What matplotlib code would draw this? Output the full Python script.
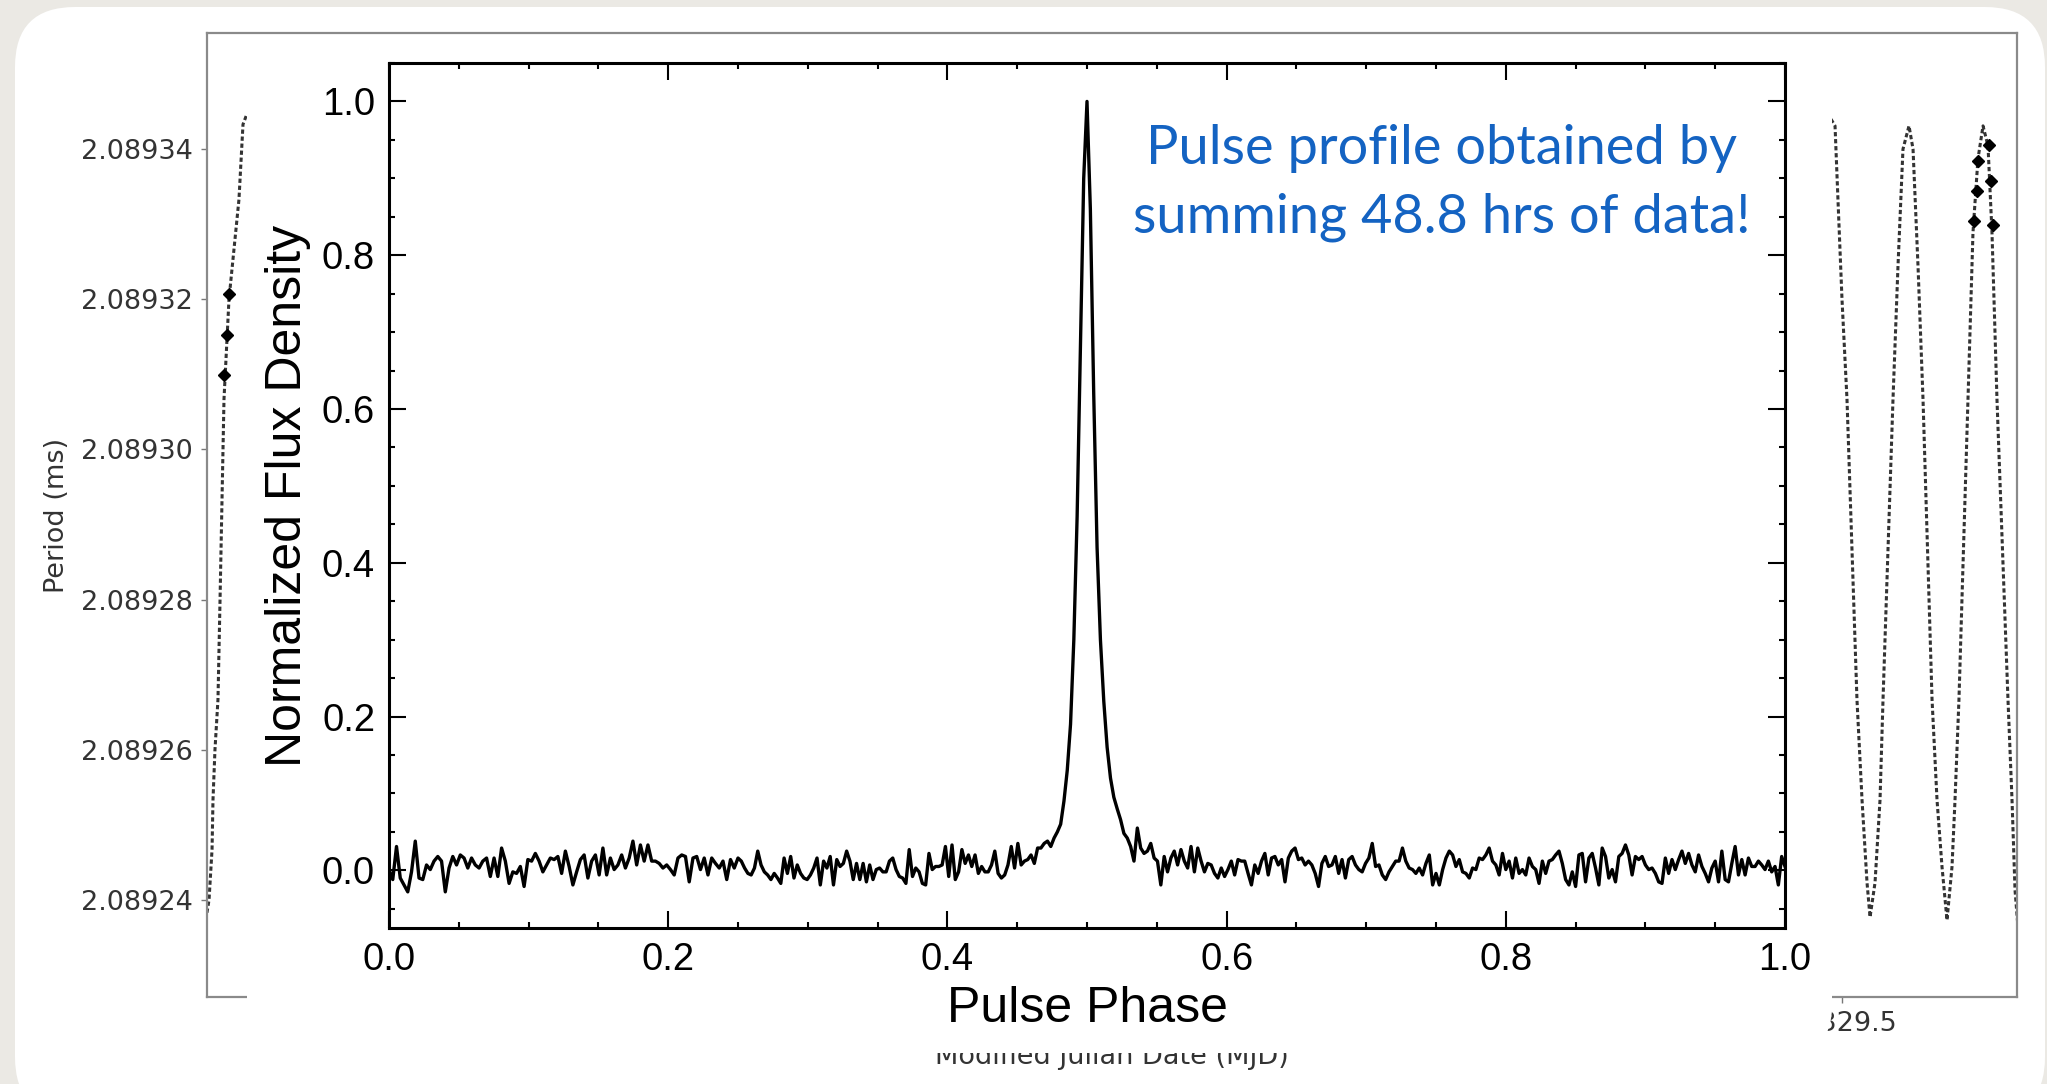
import numpy as np
import matplotlib.pyplot as plt
from matplotlib.patches import FancyBboxPatch

# ---- background chart: pulse period vs. MJD (mostly covered) ----
mjd_left = [56327.5988, 56327.6012, 56327.6047, 56327.6058, 56327.6081, 56327.6116,
            56327.6140, 56327.6186, 56327.6244, 56327.6360, 56327.6407, 56327.6453]
period_left = [2.0892383, 2.0892400, 2.0892467, 2.0892533, 2.0892600, 2.0892667,
               2.0892800, 2.0893067, 2.0893200, 2.0893333, 2.0893433, 2.0893447]
mjd_right = [56329.4872, 56329.4919, 56329.4953, 56329.5000, 56329.5058, 56329.5174,
             56329.5233, 56329.5291, 56329.5326, 56329.5384, 56329.5442, 56329.5477,
             56329.5593, 56329.5651, 56329.5709, 56329.5779, 56329.5826, 56329.5884,
             56329.5942, 56329.6047, 56329.6105, 56329.6163, 56329.6221, 56329.6279,
             56329.6314, 56329.6360, 56329.6465, 56329.6523, 56329.6581, 56329.6640,
             56329.6698, 56329.6744, 56329.6779, 56329.6802, 56329.6930, 56329.6977,
             56329.7012, 56329.7058]
period_right = [2.0893440, 2.0893431, 2.0893333, 2.0893200, 2.0893067, 2.0892667,
                2.0892533, 2.0892423, 2.0892377, 2.0892423, 2.0892533, 2.0892667,
                2.0893067, 2.0893244, 2.0893400, 2.0893431, 2.0893400, 2.0893244,
                2.0893067, 2.0892667, 2.0892533, 2.0892444, 2.0892373, 2.0892444,
                2.0892533, 2.0892667, 2.0893067, 2.0893289, 2.0893387, 2.0893431,
                2.0893404, 2.0893289, 2.0893156, 2.0893067, 2.0892667, 2.0892533,
                2.0892413, 2.0892347]
obs_mjd = [56327.6244, 56327.6221, 56327.6186, 56329.6535, 56329.6570, 56329.6581,
           56329.6709, 56329.6733, 56329.6756]
obs_period = [2.0893207, 2.0893153, 2.0893099, 2.0893304, 2.0893344, 2.0893384,
              2.0893405, 2.0893357, 2.0893299]
period_ticks = [2.08924, 2.08926, 2.08928, 2.08930, 2.08932, 2.08934]
mjd_ticks = [56328.0, 56328.5, 56329.0, 56329.5]

# ---- pulse profile, read in four quarters of phase ----
flux_q1 = [.001, -.012, .031, -.010, -.019, -.028, -.002, .038, -.010, -.012,
           .007, .001, .012, .018, .012, -.028, .003, .018, .007, .020,
           .016, .003, .016, .007, .003, .012, .016, -.008, .016, -.008,
           .029, .012, -.017, -.002, -.004, .005, -.021, .014, .012, .022,
           .012, -.002, .007, .016, .014, .018, -.004, .025, .005, -.019,
           -.002, .014, .020, -.010, .012, .020, -.006, .029, -.006, .016,
           .001, .007, .020, .003, .016, .038, .007, .033, .012, .033,
           .012, .012, .009, .003, .007, .001, -.006, .016, .020, .018,
           -.015, .016, .018, .001, .016, -.006, .016, .009, .003, .012,
           -.012, .014, .003, .016]
flux_q2 = [.012, .003, -.004, -.006, .003, .025, .007, -.002, -.006, -.012,
           -.004, -.010, -.017, .016, -.004, .018, -.010, .007, -.004, -.010,
           -.012, -.006, .003, .016, -.019, .012, .003, .018, -.019, .014,
           .005, .009, .025, .012, -.012, .009, -.012, .009, -.015, .007,
           -.012, .001, .003, -.002, -.002, .012, .016, .001, -.008, -.010,
           -.017, .027, -.008, .003, -.002, -.017, -.019, .022, .001, .005,
           .005, .007, .031, -.008, .033, -.012, -.002, .027, .009, .020,
           .005, .020, -.004, .005, -.002, -.002, .007, .025, -.004, -.010,
           -.006, .007, .031, .003, .035, .007, .012, .014, .020, .009,
           .029, .029, .035, .038, .031, .042,
           .05, .06, .09, .13, .19, .30, .46, .68, .90, 1.0]
flux_q3 = [.86, .62, .42, .30, .22, .16, .12, .095, .08,
           .066, .048, .042, .031, .012, .055, .029, .022, .025, .035,
           .016, .012, -.019, .018, -.002, .016, .025, .007, .027, .012,
           .003, .031, -.002, .029, .012, -.002, .009, .007, -.004, -.010,
           .003, -.008, .001, .012, -.006, .014, .012, .012, -.004, -.019,
           .007, -.004, .012, .022, -.006, .016, .018, .007, .014, -.015,
           .016, .025, .029, .014, .016, .007, .012, .007, -.004, -.021,
           .009, .018, .005, .007, .018, -.004, .014, -.010, .014, .018,
           .007, .001, -.002, .009, .016, .035, .005, .007, -.006, -.012,
           -.002, .005, .012, .012, .029, .012, .003, .001, -.004, .003,
           -.006, .009, .020, -.019, -.004]
flux_q4 = [-.019, .001, .016, .025, .020, .005, .014, -.002, -.004, -.010,
           .003, .001, .016, .014, .020, .029, .012, .007, -.006, .022,
           .001, .012, -.010, .016, -.004, .001, -.006, .016, .005, .001,
           -.017, .012, -.004, .012, .014, .020, .025, .009, -.012, -.019,
           -.002, -.021, .020, .022, -.015, .016, .022, .003, -.019, .029,
           .018, -.010, .001, -.015, .018, .022, .033, .020, -.006, .018,
           .014, .018, .007, .001, .003, -.004, -.015, -.017, .016, -.004,
           .014, .001, .014, .025, .009, .022, .007, -.002, .020, .005,
           -.004, -.015, .003, .012, -.015, .025, -.012, -.015, .009, .031,
           -.006, .014, -.006, .016, .005, .005, .012, .007, .001, .012,
           -.002, .005, -.019, .018, .005]

phase = np.concatenate([np.linspace(0.0, 0.25, len(flux_q1)),
                        np.linspace(0.25, 0.5, len(flux_q2) + 1)[1:],
                        np.linspace(0.5, 0.75, len(flux_q3) + 1)[1:],
                        np.linspace(0.75, 1.0, len(flux_q4) + 1)[1:]])
flux = np.concatenate([flux_q1, flux_q2, flux_q3, flux_q4])

note = "Pulse profile obtained by\nsumming 48.8 hrs of data!"

W, H = 2047, 1084


def rect(l, t, r, b):
    # pixel box -> figure fraction
    return [l / W, 1 - b / H, (r - l) / W, (b - t) / H]


fig = plt.figure(figsize=(W / 100, H / 100), dpi=100, facecolor='#ebe9e4')

# slide card
ax_card = fig.add_axes([0, 0, 1, 1], zorder=0)
ax_card.set_xlim(0, W)
ax_card.set_ylim(H, 0)
ax_card.axis('off')
ax_card.add_patch(FancyBboxPatch((15, 7), 2030, 1110, boxstyle='round,pad=0,rounding_size=60',
                                 facecolor='white', edgecolor='none'))

# period vs MJD
ax_bg = fig.add_axes(rect(207, 33, 2017, 997), zorder=1)
ax_bg.plot(mjd_left, period_left, color='#333333', lw=2.2, ls=(0, (1.4, 0.9)))
ax_bg.plot(mjd_right, period_right, color='#333333', lw=2.2, ls=(0, (1.4, 0.9)))
ax_bg.plot(obs_mjd, obs_period, 'D', color='black', ms=6, ls='none')
ax_bg.set_xlim(56327.59884, 56329.70349)
ax_bg.set_ylim(2.08922707, 2.08935547)
ax_bg.set_yticks(period_ticks, ['%.5f' % v for v in period_ticks])
ax_bg.set_xticks(mjd_ticks, ['%.1f' % v for v in mjd_ticks])
ax_bg.tick_params(length=4, width=1, color='#777777', labelsize=19.5,
                  labelcolor='#333333', pad=6)
for s in ax_bg.spines.values():
    s.set_color('#8a8a8a')
    s.set_linewidth(1.6)
ax_bg.set_ylabel('Period (ms)', fontsize=19.5, color='#333333', labelpad=8)
ax_bg.set_xlabel('Modified Julian Date (MJD)', fontsize=19.5, color='#333333', labelpad=5)

# white inset panel
ax_panel = fig.add_axes([0, 0, 1, 1], zorder=2)
ax_panel.set_xlim(0, W)
ax_panel.set_ylim(H, 0)
ax_panel.axis('off')
ax_panel.add_patch(FancyBboxPatch((247, 48), 1585, 1005, boxstyle='round,pad=0,rounding_size=46',
                                  facecolor='white', edgecolor='none'))

# pulse profile
ax = fig.add_axes(rect(389, 63, 1785, 928), zorder=3)
ax.plot(phase, flux, color='black', lw=2.4)
ax.set_xlim(0, 1)
ax.set_ylim(-0.075, 1.05)
ax.set_xticks([0.0, 0.2, 0.4, 0.6, 0.8, 1.0])
ax.set_xticks(np.arange(0, 1.0001, 0.05), minor=True)
ax.set_yticks([0.0, 0.2, 0.4, 0.6, 0.8, 1.0])
ax.set_yticks(np.arange(-0.05, 1.0501, 0.05), minor=True)
ax.tick_params(which='both', direction='in', top=True, right=True, width=1.5)
ax.tick_params(which='major', length=12, labelsize=27.5, pad=10)
ax.tick_params(which='minor', length=4.5)
for lab in ax.get_xticklabels() + ax.get_yticklabels():
    lab.set_family('Liberation Sans')
for s in ax.spines.values():
    s.set_linewidth(2.2)
ax.set_xlabel('Pulse Phase', fontsize=36, family='Liberation Sans', labelpad=6)
ax.set_ylabel('Normalized Flux Density', fontsize=36, family='Liberation Sans', labelpad=8)

# blue note on top of the profile (baseline of the second line)
ax.text(1442 / W, 1 - 232 / H, note, transform=fig.transFigure, color='#1463c2',
        fontsize=39, family='Lato', ha='center', va='baseline',
        multialignment='center', linespacing=1.47)

fig.savefig('out.png', dpi=100, facecolor=fig.get_facecolor())
